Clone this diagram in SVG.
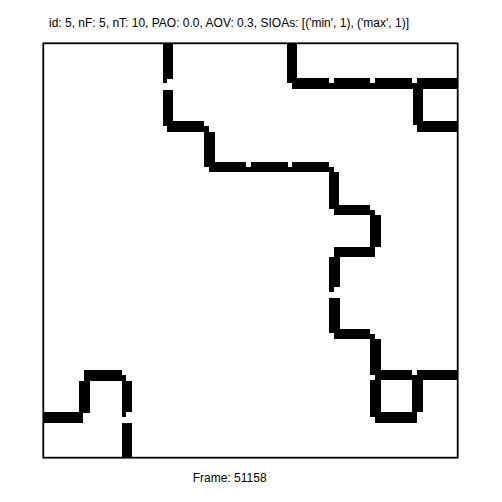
<svg xmlns="http://www.w3.org/2000/svg" width="502" height="502" viewBox="0 0 502 502">
<style>
.t{font-family:"Liberation Sans",Arial,sans-serif;font-size:12px;fill:#000}
.s rect{fill:#000}
</style>
<rect width="502" height="502" fill="#fff"/>
<text class="t" x="229" y="27.3" text-anchor="middle">id: 5, nF: 5, nT: 10, PAO: 0.0, AOV: 0.3, SIOAs: [('min', 1), ('max', 1)]</text>
<rect id="frame" x="43.3" y="43.3" width="414.4" height="414.4" fill="none" stroke="#000" stroke-width="1.8"/>
<g id="pathA" class="s" shape-rendering="crispEdges">
<rect x="162.7" y="43" width="10" height="36.3"/>
<rect x="162.7" y="79.3" width="4" height="4"/>
<rect x="162.7" y="90" width="10" height="36"/>
<rect x="166.7" y="121" width="37.3" height="10.7"/>
<rect x="204" y="126" width="5" height="5.7"/>
<rect x="204" y="131.7" width="11" height="35"/>
<rect x="209.3" y="161.7" width="36.7" height="10.7"/>
<rect x="246" y="166.7" width="5" height="5.6"/>
<rect x="251" y="161.7" width="36.7" height="10.7"/>
<rect x="287.7" y="166.7" width="4" height="5.6"/>
<rect x="291.7" y="161.7" width="37.7" height="10.7"/>
<rect x="329.3" y="166.7" width="4.7" height="5.6"/>
<rect x="329.3" y="172.3" width="10" height="37"/>
<rect x="334" y="205" width="36" height="10"/>
<rect x="370" y="210" width="5" height="5"/>
<rect x="370" y="215" width="10.7" height="31.7"/>
<rect x="334" y="246.7" width="41" height="10"/>
<rect x="329" y="256.7" width="11" height="30"/>
<rect x="329" y="286.7" width="5" height="5"/>
<rect x="329" y="298.3" width="11" height="35"/>
<rect x="334" y="329.3" width="36" height="10"/>
<rect x="370" y="334" width="5" height="5.3"/>
<rect x="370" y="339.3" width="10.7" height="35.7"/>
<rect x="375" y="370" width="36.7" height="10"/>
<rect x="411.7" y="375" width="5" height="5"/>
<rect x="416.7" y="370" width="40" height="10"/>
<rect x="370" y="380" width="10.7" height="36.7"/>
<rect x="411.7" y="375" width="11" height="36.7"/>
<rect x="375" y="411.7" width="41.7" height="11"/>
</g>
<g id="pathB" class="s" shape-rendering="crispEdges">
<rect x="287.3" y="43" width="10" height="40.3"/>
<rect x="292.3" y="78.3" width="37" height="11"/>
<rect x="329.3" y="83.3" width="4.7" height="6"/>
<rect x="334" y="78.3" width="36" height="11"/>
<rect x="370" y="83.3" width="5" height="6"/>
<rect x="375" y="78.3" width="36.7" height="11"/>
<rect x="411.7" y="83.3" width="5" height="6"/>
<rect x="416.7" y="78.3" width="40" height="11"/>
<rect x="412.7" y="89.3" width="10.7" height="36"/>
<rect x="417" y="121" width="40" height="10.7"/>
</g>
<g id="pathC" class="s" shape-rendering="crispEdges">
<rect x="43" y="411.7" width="40.3" height="11"/>
<rect x="79.3" y="380.7" width="10.7" height="32.7"/>
<rect x="84.3" y="370" width="37.4" height="10.7"/>
<rect x="121.7" y="375" width="4.3" height="5.7"/>
<rect x="121.7" y="380.7" width="10" height="31"/>
<rect x="121.7" y="411.7" width="4.3" height="5"/>
<rect x="121.7" y="422.7" width="10" height="34"/>
</g>
<text class="t" x="229.7" y="482" text-anchor="middle">Frame: 51158</text>
</svg>
